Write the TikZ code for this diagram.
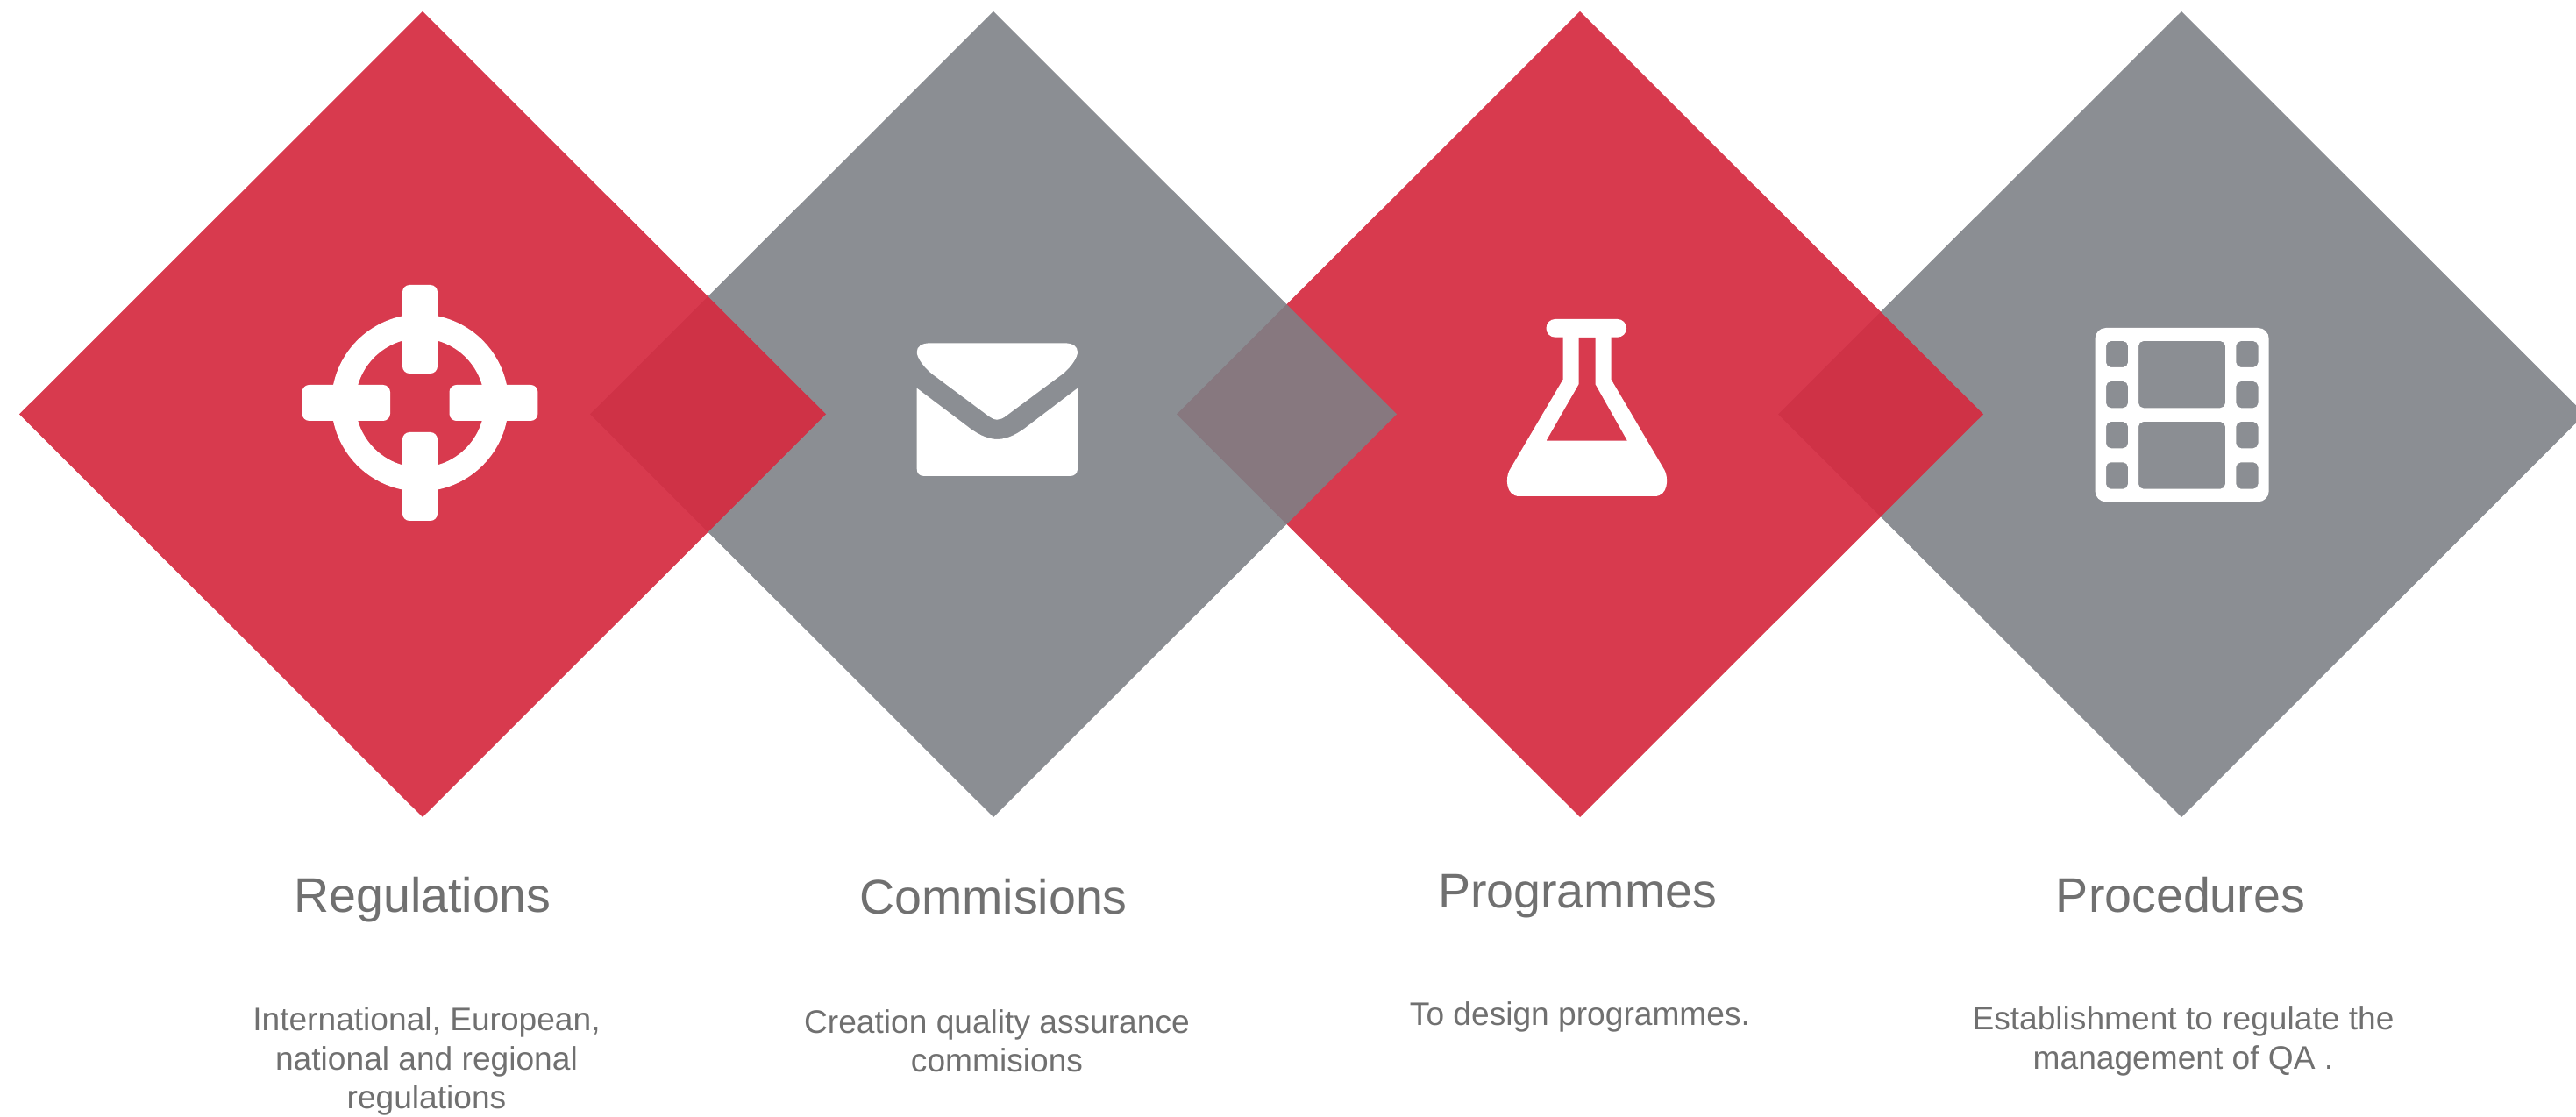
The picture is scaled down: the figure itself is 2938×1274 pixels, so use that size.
\documentclass[tikz,border=0pt]{standalone}
\usepackage{fontspec}
\setmainfont{Liberation Sans}
\definecolor{qred}{RGB}{213,43,65}
\definecolor{qgrey}{RGB}{125,128,134}
\definecolor{qtext}{RGB}{112,112,112}
\tikzset{
  x=0.01cm, y=-0.01cm,
  reddia/.style={fill=qred, fill opacity=0.93},
  greydia/.style={fill=qgrey, fill opacity=0.89},
  iconfill/.style={fill=white},
  arm/.style={fill=white, rounded corners=2.3pt},
  headtext/.style={text=qtext, anchor=base, inner sep=0pt, font=\fontsize{15.8pt}{18pt}\selectfont},
  bodytext/.style={text=qtext, anchor=base, inner sep=0pt, align=center, font=\fontsize{10.56pt}{12.66pt}\selectfont}
}
\begin{document}
\begin{tikzpicture}
\useasboundingbox (0,0) rectangle (2938,1274);
\clip (0,0) rectangle (2938,1274);
% diamonds, rightmost lowest
\fill[greydia] (2028,472.5) -- (2488,13) -- (2948,472.5) -- (2488,932) -- cycle;
\fill[reddia]  (1342,472.5) -- (1802,13) -- (2262,472.5) -- (1802,932) -- cycle;
\fill[greydia] (673,472.5) -- (1133,13) -- (1593,472.5) -- (1133,932) -- cycle;
\fill[reddia]  (22,472.5) -- (482,13) -- (942,472.5) -- (482,932) -- cycle;
% crosshair icon
\fill[iconfill, even odd rule] (479,459.5) circle[radius=101] (479,459.5) circle[radius=73.6];
\fill[arm] (459,325) rectangle (499,426);
\fill[arm] (459,493) rectangle (499,594);
\fill[arm] (344.6,439) rectangle (445,480);
\fill[arm] (512.5,439) rectangle (613.4,480);
% envelope icon
\fill[iconfill] (1062,391.3) -- (1213,391.3)
  .. controls (1224,391.3) and (1229,395) .. (1229,401.7)
  .. controls (1229,408) and (1221,419.5) .. (1211.7,426.7)
  -- (1148,474)
  .. controls (1144,477) and (1141,478.7) .. (1137.3,478.7)
  .. controls (1134,478.7) and (1131,477) .. (1126.7,474)
  -- (1063.3,426.7)
  .. controls (1054,419.5) and (1045.7,408) .. (1045.7,401.7)
  .. controls (1045.7,395) and (1051,391.3) .. (1062,391.3) -- cycle;
\fill[iconfill] (1045.7,442.7) -- (1101.7,485)
  .. controls (1113,494) and (1125,501) .. (1137.3,501)
  .. controls (1150,501) and (1162,494) .. (1173.3,485)
  -- (1229,442.7) -- (1229,535)
  .. controls (1229,540) and (1225,543) .. (1220.7,543)
  -- (1054,543)
  .. controls (1049,543) and (1045.7,540) .. (1045.7,535) -- cycle;
% flask icon
\fill[iconfill, rounded corners=2.9pt] (1763.5,364) rectangle (1855,384.7);
\fill[iconfill, even odd rule]
  (1782.7,380) -- (1782.7,432.7) -- (1721.4,536.7)
  .. controls (1717,545) and (1717,566) .. (1733,566)
  -- (1887,566)
  .. controls (1903,566) and (1903,545) .. (1898.7,536.7)
  -- (1837.5,432.7) -- (1837.5,380) -- cycle
  (1800.5,384.7) -- (1800.5,438.3) -- (1763.5,502.7) -- (1856,502.7)
  -- (1819.6,438.3) -- (1819.6,384.7) -- cycle;
% film icon
\fill[iconfill, even odd rule, rounded corners=3.5pt]
  (2389.5,374) rectangle (2587.7,572.3)
  [rounded corners=1.6pt]
  (2402,389) rectangle (2427,419)
  (2402,435) rectangle (2427,465.3)
  (2402,481) rectangle (2427,511.3)
  (2402,527.3) rectangle (2427,557.7)
  (2550.3,389) rectangle (2575.5,419)
  (2550.3,435) rectangle (2575.5,465.3)
  (2550.3,481) rectangle (2575.5,511.3)
  (2550.3,527.3) rectangle (2575.5,557.7)
  (2439,389) rectangle (2538,465.3)
  (2439,481) rectangle (2538,557.7);
% texts (the base anchor of a multi-line node is its last line)
\node[headtext] (h1) at (482,1041) {Regulations};
\node[headtext] (h2) at (1133,1043) {Commisions};
\node[headtext] (h3) at (1799,1036) {Programmes};
\node[headtext] (h4) at (2487,1041) {Procedures};
\node[bodytext] (b1) at (486.5,1265) {International, European,\\national and regional\\regulations};
\node[bodytext] (b2) at (1137,1223) {Creation quality assurance\\commisions};
\node[bodytext] (b3) at (1802,1170) {To design programmes.};
\node[bodytext] (b4) at (2490,1219.5) {Establishment to regulate the\\management of QA .};
\end{tikzpicture}
\end{document}
